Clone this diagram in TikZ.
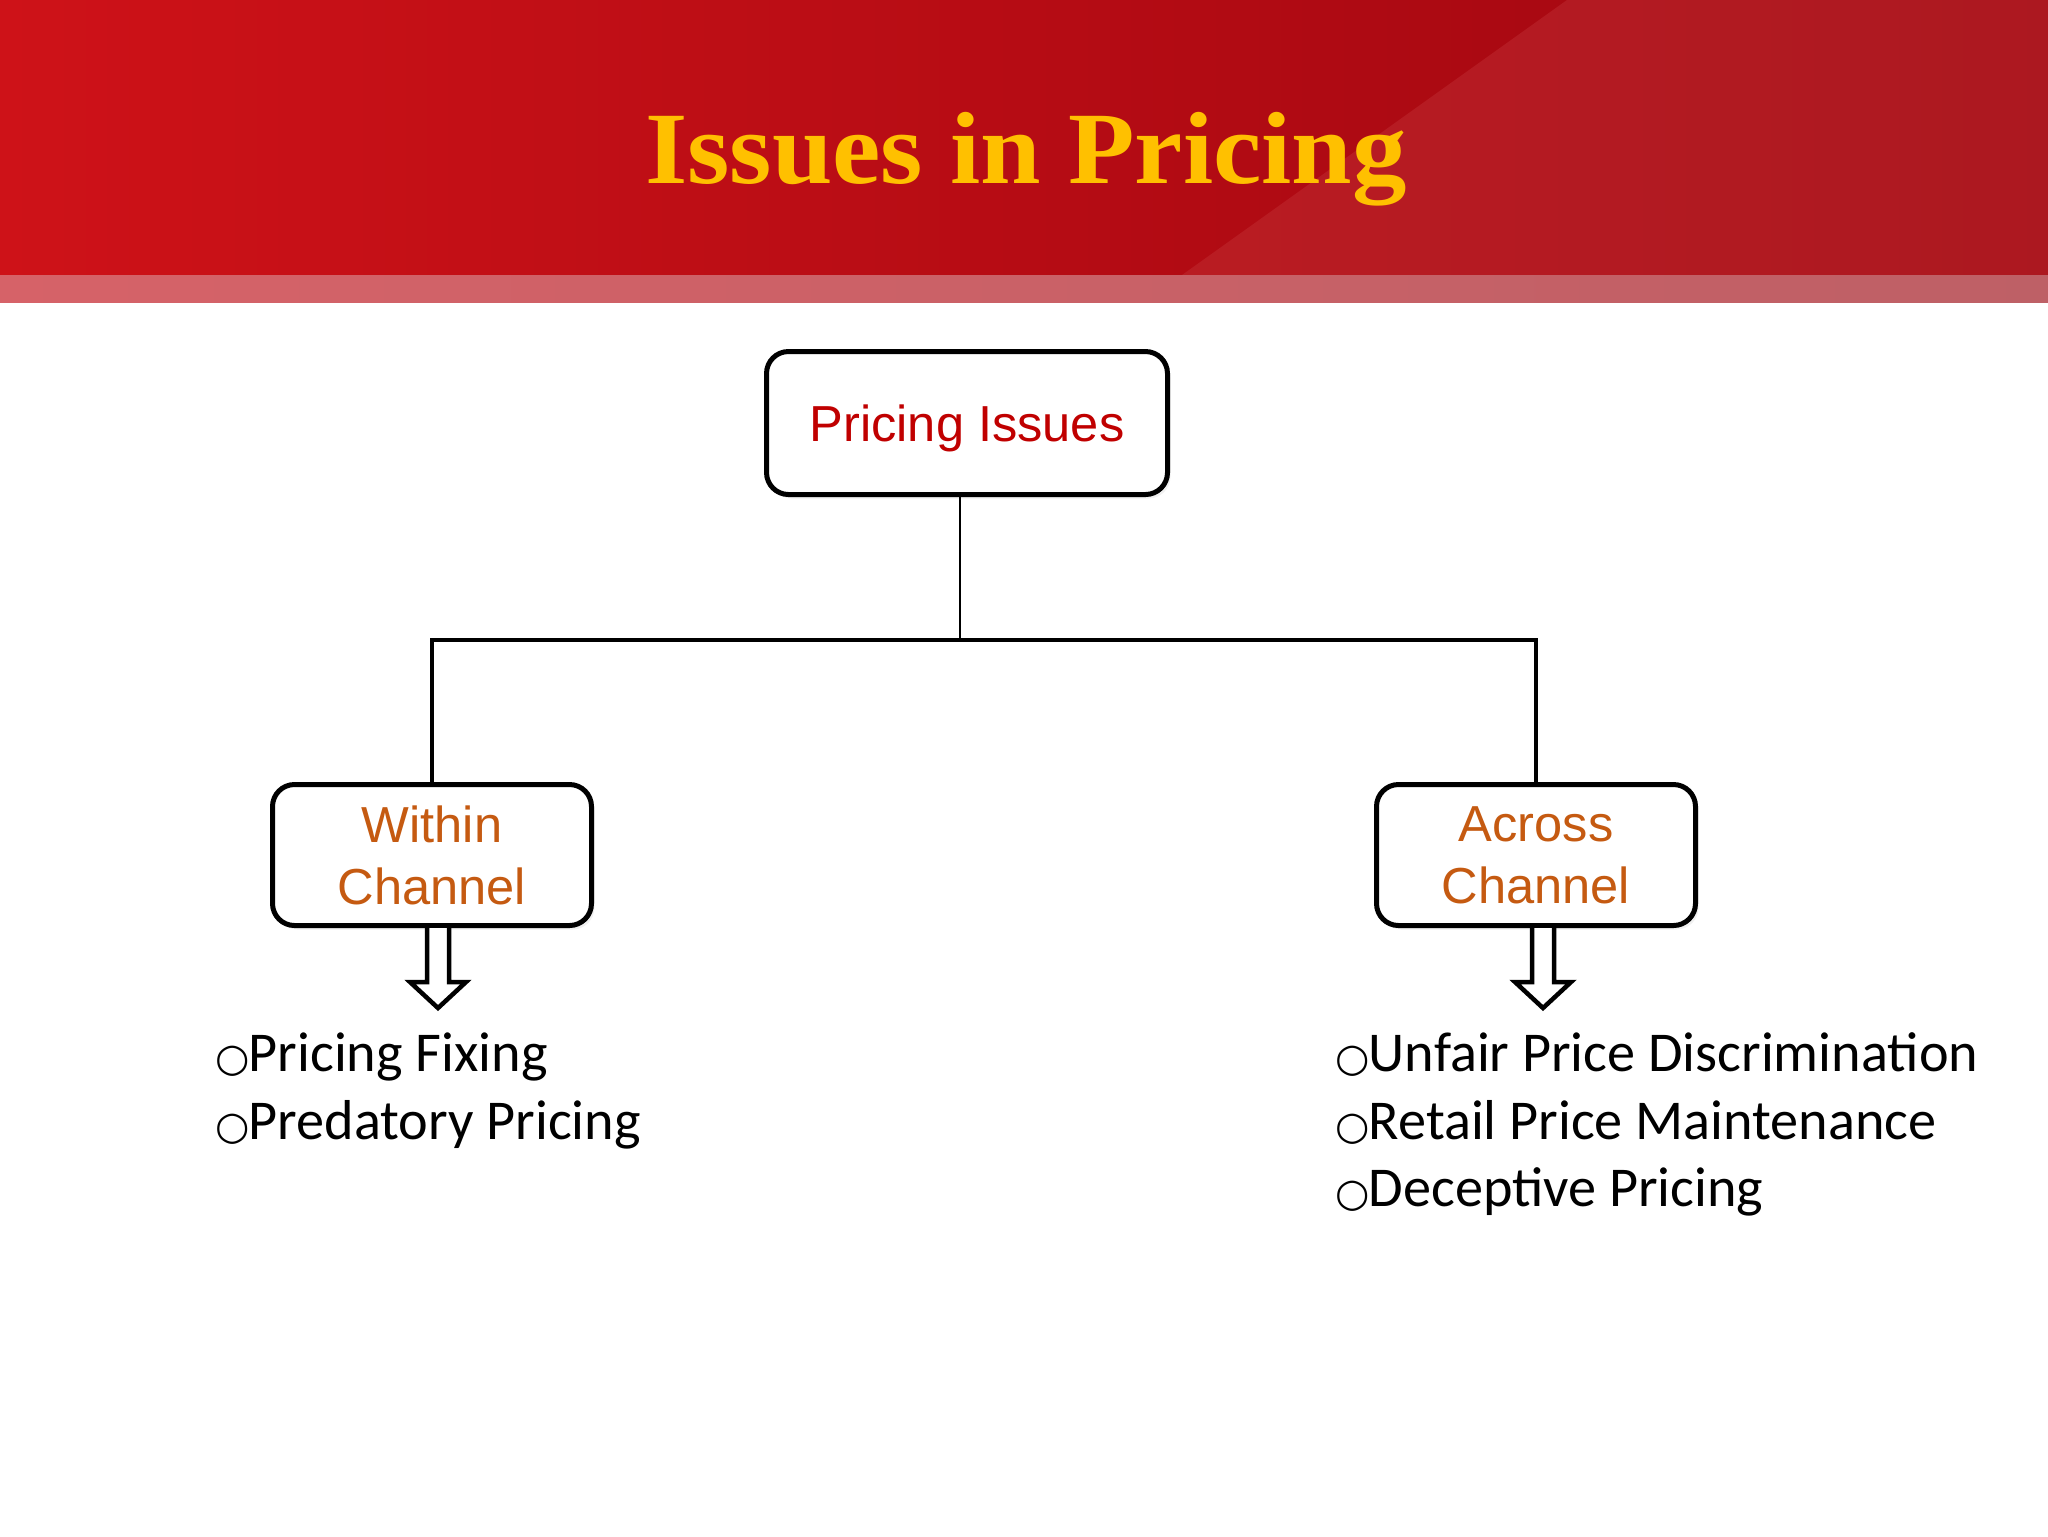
\documentclass[tikz,border=0pt]{standalone}
\usepackage{fontspec}
\usepackage{tikz}
\usetikzlibrary{calc,shadows}
\newfontfamily\titlefont[FakeStretch=1.06]{Liberation Serif}
\newfontfamily\boxfont{Liberation Sans}
\newfontfamily\listfont{Carlito}
\newfontfamily\bulletfont{DejaVu Sans}
\newlength{\unitpx}
\setlength{\unitpx}{0.1mm}
\newcommand{\bull}{\makebox[33\unitpx][l]{\bulletfont\fontsize{11.2}{12}\selectfont ○}}
\definecolor{hdrleft}{RGB}{206,18,24}
\definecolor{hdrright}{RGB}{158,6,16}
\definecolor{hdrlight}{RGB}{200,60,64}
\definecolor{bandleft}{RGB}{214,98,104}
\definecolor{bandright}{RGB}{190,96,102}
\definecolor{titlegold}{RGB}{255,192,0}
\definecolor{rootred}{RGB}{192,0,0}
\definecolor{chorange}{RGB}{197,90,17}
\tikzset{rootbox/.style={draw, line width=0.5mm, rounded corners=2.2mm, fill=white,
		minimum width=40.1mm, minimum height=14.3mm, text=rootred,
		font=\boxfont\fontsize{14.4}{17.6}\selectfont,
		drop shadow={opacity=0.12, shadow xshift=0.3mm, shadow yshift=-0.4mm}},
	channelbox/.style={rootbox, minimum width=31.9mm, minimum height=14.1mm,
		align=center, text=chorange},
	titletext/.style={anchor=base, inner sep=0, text=titlegold,
		font=\titlefont\bfseries\fontsize{29.2}{34}\selectfont},
	item/.style={anchor=base west, inner sep=0,
		font=\listfont\fontsize{16}{19}\selectfont},
	stem/.style={draw, line width=0.2mm},
	branch/.style={draw, line width=0.45mm},
	blockarrow/.style={draw, line width=0.45mm, fill=white, line join=miter}}

\begin{document}
\begin{tikzpicture}[x=0.1mm,y=-0.1mm]
		\useasboundingbox (0,0) rectangle (2048,1536);
		% header band
		\shade[left color=hdrleft, right color=hdrright] (0,0) rectangle (2048,275);
		\fill[hdrlight, opacity=0.35] (1567,0) -- (2048,0) -- (2048,275) -- (1182,275) -- cycle;
		\shade[left color=bandleft, right color=bandright] (0,275) rectangle (2048,302);
		\node[titletext] (title) at (1026,183) {Issues in Pricing};
		% boxes
		\node[rootbox, text depth=0pt] (root) at (967,423) {Pricing Issues};
		\node[channelbox] (within) at (432,855) {Within\\Channel};
		\node[channelbox] (across) at (1536,855) {Across\\Channel};
		% connectors
		\coordinate (fork) at (960,640);
		\draw[stem] (root.south -| fork) -- (fork);
		\draw[branch] (within.north) -- (within.north |- fork) -- (across.north |- fork) -- (across.north);
		\coordinate (wtail) at (438,928);
		\coordinate (atail) at (1543,928);
		\foreach \t in {wtail,atail}
		\draw[blockarrow] (\t) ++(-11,0) -- ++(0,54) -- ++(-17,0) -- ++(28,26) -- ++(28,-26) -- ++(-17,0) -- ++(0,-54);
		% lists
		\node[item] (w1) at (215,1071) {\bull Pricing Fixing};
		\node[item] (w2) at (215,1139) {\bull Predatory Pricing};
		\node[item] (a1) at (1335,1071) {\bull Unfair Price Discrimination};
		\node[item] (a2) at (1335,1139) {\bull Retail Price Maintenance};
		\node[item] (a3) at (1335,1206) {\bull Deceptive Pricing};
\end{tikzpicture}
\end{document}
